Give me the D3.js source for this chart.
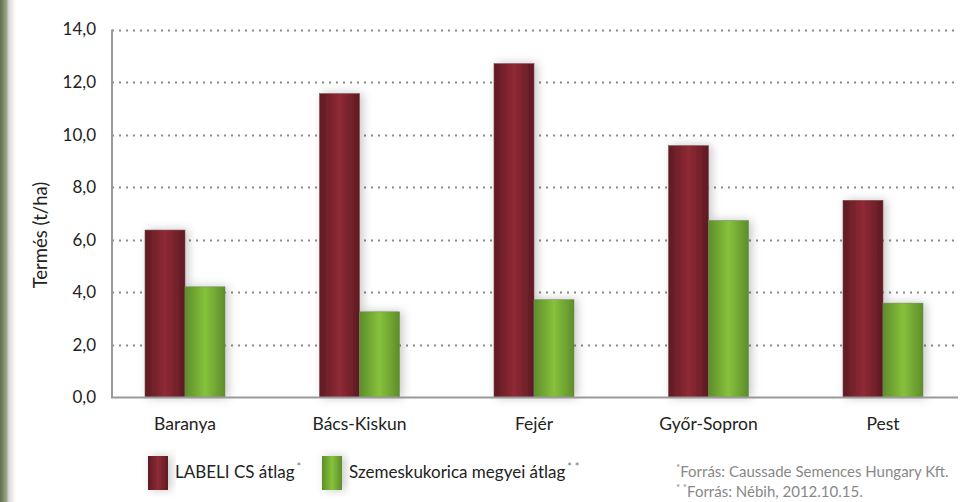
<!DOCTYPE html>
<html>
<head>
<meta charset="utf-8">
<script src="https://cdn.jsdelivr.net/npm/d3@7"></script>
<style>
  body { margin: 0; background: #fff; }
  svg { display: block; font-family: "Lato", "Open Sans", sans-serif; }
</style>
</head>
<body>
<svg id="chart" width="973" height="502"></svg>
<script>
// data
var megyek = ["Baranya", "Bács-Kiskun", "Fejér", "Győr-Sopron", "Pest"];
var labeliAtlag = [6.37, 11.56, 12.70, 9.58, 7.50];
var megyeiAtlag = [4.21, 3.26, 3.72, 6.73, 3.59];
var yTicks = [0, 2, 4, 6, 8, 10, 12, 14];

var svg = d3.select("#chart");
var defs = svg.append("defs");

// left edge strip (photo border in the original)
var edge = defs.append("linearGradient").attr("id", "edge");
edge.append("stop").attr("offset", "0%").attr("stop-color", "#5f6e4a");
edge.append("stop").attr("offset", "40%").attr("stop-color", "#9aa486");
edge.append("stop").attr("offset", "55%").attr("stop-color", "#d8d8d8");
edge.append("stop").attr("offset", "100%").attr("stop-color", "#ffffff");
svg.append("rect").attr("x", 0).attr("y", 0).attr("width", 16).attr("height", 502)
  .attr("fill", "url(#edge)");

function barGrad(id, dark, mid) {
  var g = defs.append("linearGradient").attr("id", id);
  g.append("stop").attr("offset", "0%").attr("stop-color", dark);
  g.append("stop").attr("offset", "50%").attr("stop-color", mid);
  g.append("stop").attr("offset", "100%").attr("stop-color", dark);
}
barGrad("gRed", "#5e1b22", "#8f2a35");
barGrad("gGreen", "#5e8d2b", "#86c23b");

var sh = defs.append("filter").attr("id", "shadow")
  .attr("x", "-40%").attr("y", "-20%").attr("width", "180%").attr("height", "140%");
sh.append("feDropShadow").attr("dx", 3).attr("dy", 0).attr("stdDeviation", 5)
  .attr("flood-color", "#000").attr("flood-opacity", 0.22);

var plotLeft = 112, plotRight = 955, plotTop = 29.5, plotBottom = 397.5;

var y = d3.scaleLinear().domain([0, 14]).range([plotBottom, plotTop]);
var x = d3.scaleBand().domain(megyek).range([97.75, 970.25]);
var sub = d3.scaleBand().domain(["labeli", "megyei"]).range([-40, 40]);

// dotted gridlines
svg.append("g").selectAll("line").data(yTicks.slice(1)).join("line")
  .attr("x1", plotLeft).attr("x2", plotRight)
  .attr("y1", function(d) { return Math.round(y(d)) + 0.5; })
  .attr("y2", function(d) { return Math.round(y(d)) + 0.5; })
  .attr("stroke", "#8a8a8a").attr("stroke-width", 2)
  .attr("stroke-dasharray", "2,5");

// y axis labels
var yAxis = d3.axisLeft(y).tickValues(yTicks).tickSize(0).tickPadding(16)
  .tickFormat(function(d) { return d3.format(".1f")(d).replace(".", ","); });
var ya = svg.append("g").attr("transform", "translate(" + plotLeft + ",0)").call(yAxis);
ya.select(".domain").remove();
ya.selectAll("text").attr("font-size", 17).attr("fill", "#222")
  .attr("font-family", "Lato, sans-serif");

// bars
var groups = svg.append("g").selectAll("g").data(megyek).join("g")
  .attr("transform", function(d) { return "translate(" + (x(d) + x.bandwidth() / 2) + ",0)"; });

groups.append("rect")
  .attr("x", sub("labeli")).attr("width", sub.bandwidth())
  .attr("y", function(d, i) { return y(labeliAtlag[i]); })
  .attr("height", function(d, i) { return plotBottom - y(labeliAtlag[i]); })
  .attr("fill", "url(#gRed)").attr("stroke", "#7a4a4e").attr("stroke-width", 0.6)
  .attr("filter", "url(#shadow)");

groups.append("rect")
  .attr("x", sub("megyei")).attr("width", sub.bandwidth())
  .attr("y", function(d, i) { return y(megyeiAtlag[i]); })
  .attr("height", function(d, i) { return plotBottom - y(megyeiAtlag[i]); })
  .attr("fill", "url(#gGreen)").attr("stroke", "#6f8a55").attr("stroke-width", 0.6)
  .attr("filter", "url(#shadow)");

// axis lines
svg.append("line").attr("x1", plotLeft).attr("x2", plotLeft).attr("y1", plotTop).attr("y2", plotBottom)
  .attr("stroke", "#9a9a9a").attr("stroke-width", 2);
svg.append("line").attr("x1", plotLeft - 1).attr("x2", plotRight + 3)
  .attr("y1", plotBottom).attr("y2", plotBottom)
  .attr("stroke", "#9a9a9a").attr("stroke-width", 2);

// category labels
var xAxis = d3.axisBottom(x).tickSize(0).tickPadding(20);
var xa = svg.append("g").attr("transform", "translate(0," + plotBottom + ")").call(xAxis);
xa.select(".domain").remove();
xa.selectAll("text").attr("font-size", 17.5).attr("fill", "#222")
  .attr("font-family", "Lato, sans-serif");

// y title
svg.append("text")
  .attr("transform", "translate(47,235) rotate(-90)")
  .attr("text-anchor", "middle").attr("font-size", 18.5).attr("fill", "#222")
  .text("Termés (t/ha)");

// legend
var legend = [
  { label: "LABELI CS átlag", mark: "*", fill: "url(#gRed)", x: 148 },
  { label: "Szemeskukorica megyei átlag", mark: "* *", fill: "url(#gGreen)", x: 322 }
];
var lg = svg.append("g").selectAll("g").data(legend).join("g")
  .attr("transform", function(d) { return "translate(" + d.x + ",456)"; });
lg.append("rect").attr("width", 20).attr("height", 34)
  .attr("fill", function(d) { return d.fill; }).attr("filter", "url(#shadow)");
var lt = lg.append("text").attr("x", 27).attr("y", 22).attr("font-size", 17).attr("fill", "#222");
lt.append("tspan").text(function(d) { return d.label; });
lt.append("tspan").attr("dy", -7).attr("dx", 2).attr("font-size", 11).attr("fill", "#777")
  .text(function(d) { return d.mark; });

// sources
var notes = [
  { mark: "*", text: "Forrás:  Caussade Semences Hungary Kft.", y: 477 },
  { mark: "* *", text: "Forrás:  Nébih, 2012.10.15.", y: 497 }
];
var nt = svg.append("g").selectAll("text").data(notes).join("text")
  .attr("x", 676).attr("y", function(d) { return d.y; })
  .attr("font-size", 15).attr("fill", "#888");
nt.append("tspan").attr("font-size", 10).attr("dy", -6).text(function(d) { return d.mark; });
nt.append("tspan").attr("dy", 6).text(function(d) { return d.text; });
</script>
</body>
</html>
